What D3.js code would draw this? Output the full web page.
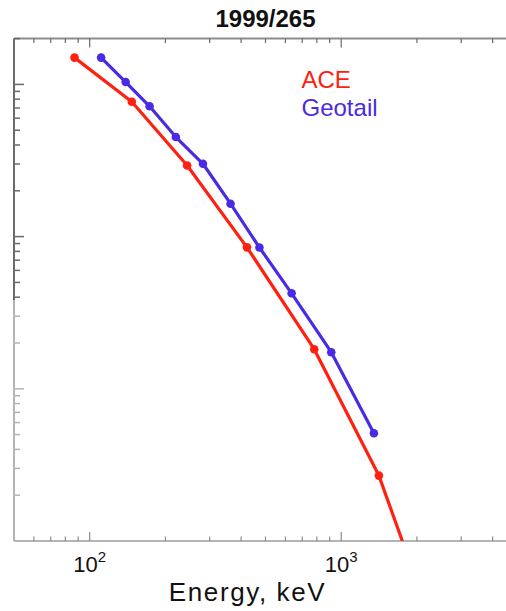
<!DOCTYPE html>
<html>
<head>
<meta charset="utf-8">
<script src="https://cdn.jsdelivr.net/npm/d3@7/dist/d3.min.js"></script>
<style>
  html, body { margin: 0; padding: 0; background: #fff; }
  svg { display: block; font-family: "Liberation Sans", Arial, Helvetica, sans-serif; }
</style>
</head>
<body>
<svg id="chart" width="506" height="611"></svg>
<script>
// Day 1999/265 energetic particle spectra, ACE vs Geotail
const title = "1999/265";
const xLabel = "Energy, keV";

// ACE spectrum (keV, flux) plus the extension of its fit toward higher energy
const aceEnergy = [87, 147, 244, 422, 781, 1412];
const aceFlux   = [1500, 770, 293, 85, 18.2, 2.69];
const aceTailEnergy = [1750];
const aceTailFlux   = [1.0];

// Geotail spectrum (keV, flux)
const geoEnergy = [111, 139, 173, 220, 282, 363, 473, 635, 913, 1349];
const geoFlux   = [1500, 1037, 718, 451, 301, 164.5, 84.8, 42.4, 17.4, 5.1];

const seriesNames  = ["ACE", "Geotail"];
const seriesColors = ["#ff2010", "#4b2ae3"];

const xDomain = [50, 5000];
const yDomain = [1, 2000];
const xMajorTicks = [100, 1000];
const xTickExponents = ["2", "3"];

const svg = d3.select("#chart");
const plot = { left: 14, top: 38.6, right: 517, bottom: 541 };

const x = d3.scaleLog().domain(xDomain).range([plot.left, plot.right]);
const y = d3.scaleLog().domain(yDomain).range([plot.bottom, plot.top]);

svg.append("defs").append("clipPath").attr("id", "plotClip")
  .append("rect")
  .attr("x", plot.left).attr("y", plot.top)
  .attr("width", plot.right - plot.left)
  .attr("height", plot.bottom - plot.top);

// minor/major tick values on the log axes
function logTicks(domain) {
  const out = [];
  const lo = Math.floor(Math.log10(domain[0])), hi = Math.ceil(Math.log10(domain[1]));
  for (let e = lo; e <= hi; e++) {
    for (let m = 1; m <= 9; m++) {
      const v = m * Math.pow(10, e);
      if (v >= domain[0] * 0.999 && v <= domain[1] * 1.001) out.push({ v, major: m === 1 });
    }
  }
  return out;
}
const xt = logTicks(xDomain);
const yt = logTicks(yDomain);

const darkAxis = "#6a6a6a", lightAxis = "#b4b4b4";

// bottom axis
const gB = svg.append("g");
gB.append("line").attr("x1", plot.left).attr("x2", plot.right)
  .attr("y1", plot.bottom).attr("y2", plot.bottom)
  .attr("stroke", lightAxis).attr("stroke-width", 2);
gB.selectAll("line.t").data(xt).join("line").attr("class", "t")
  .attr("x1", d => x(d.v)).attr("x2", d => x(d.v))
  .attr("y1", plot.bottom).attr("y2", d => plot.bottom - (d.major ? 9 : 4.5))
  .attr("stroke", "#8a8a8a").attr("stroke-width", 1.2);

// top axis
const gT = svg.append("g");
gT.append("line").attr("x1", plot.left).attr("x2", plot.right)
  .attr("y1", plot.top).attr("y2", plot.top)
  .attr("stroke", "#8c8c8c").attr("stroke-width", 2);
gT.selectAll("line.t").data(xt).join("line").attr("class", "t")
  .attr("x1", d => x(d.v)).attr("x2", d => x(d.v))
  .attr("y1", plot.top).attr("y2", d => plot.top + (d.major ? 9 : 4.5))
  .attr("stroke", darkAxis).attr("stroke-width", 1.2);

// left axis
const gL = svg.append("g");
gL.append("line").attr("x1", plot.left).attr("x2", plot.left)
  .attr("y1", plot.top).attr("y2", 300)
  .attr("stroke", darkAxis).attr("stroke-width", 2);
gL.append("line").attr("x1", plot.left).attr("x2", plot.left)
  .attr("y1", 300).attr("y2", plot.bottom)
  .attr("stroke", lightAxis).attr("stroke-width", 2);
gL.selectAll("line.t").data(yt).join("line").attr("class", "t")
  .attr("x1", plot.left).attr("x2", d => plot.left + (d.major ? 10 : 6))
  .attr("y1", d => y(d.v)).attr("y2", d => y(d.v))
  .attr("stroke", d => y(d.v) < 300 ? darkAxis : lightAxis).attr("stroke-width", 1.5);

// x tick labels 10^n
const lbl = svg.append("g").selectAll("text").data(xMajorTicks).join("text")
  .attr("x", d => x(d)).attr("y", 572.3)
  .attr("text-anchor", "middle").attr("font-size", 22).attr("fill", "#111");
lbl.append("tspan").text("10");
lbl.append("tspan").attr("dy", -10).attr("font-size", 15)
  .text((d, i) => xTickExponents[i]);

// axis title and chart title
svg.append("text").attr("x", 247.5).attr("y", 601).attr("text-anchor", "middle")
  .attr("font-size", 26).attr("letter-spacing", 1.6).attr("fill", "#111").text(xLabel);
svg.append("text").attr("x", (plot.left + plot.right) / 2).attr("y", 26.7)
  .attr("text-anchor", "middle").attr("font-size", 24).attr("font-weight", "bold")
  .attr("fill", "#111").text(title);

// spectra
const line = d3.line().x(d => x(d[0])).y(d => y(d[1]));
const acePts = aceEnergy.map((e, i) => [e, aceFlux[i]]);
const aceLine = acePts.concat(aceTailEnergy.map((e, i) => [e, aceTailFlux[i]]));
const geoPts = geoEnergy.map((e, i) => [e, geoFlux[i]]);

const series = [
  { line: aceLine, pts: acePts, color: seriesColors[0] },
  { line: geoPts, pts: geoPts, color: seriesColors[1] }
];
const gS = svg.append("g").attr("clip-path", "url(#plotClip)");
series.forEach(s => {
  gS.append("path").attr("d", line(s.line)).attr("fill", "none")
    .attr("stroke", s.color).attr("stroke-width", 3.2).attr("stroke-linejoin", "round");
  gS.selectAll(null).data(s.pts).join("circle")
    .attr("cx", d => x(d[0])).attr("cy", d => y(d[1])).attr("r", 4.3)
    .attr("fill", s.color);
});

// legend
svg.append("g").selectAll("text").data(seriesNames).join("text")
  .attr("x", 301.5).attr("y", (d, i) => 87.7 + i * 28.3)
  .attr("font-size", 24).attr("fill", (d, i) => seriesColors[i]).text(d => d);
</script>
</body>
</html>
